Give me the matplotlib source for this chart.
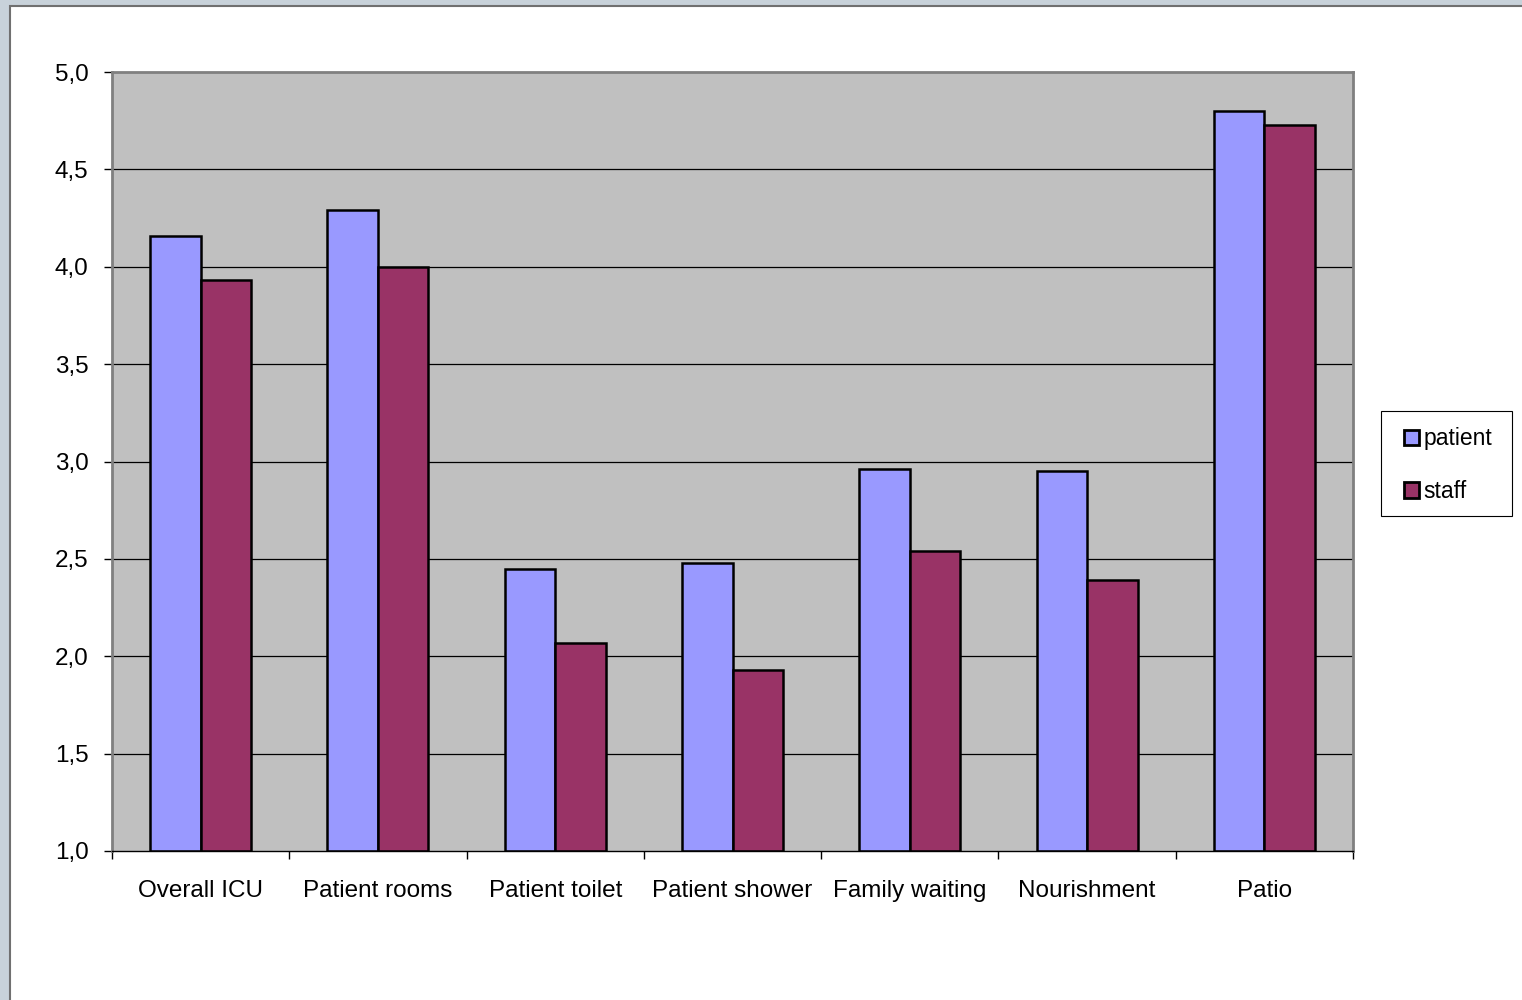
import numpy as np
import matplotlib
matplotlib.use("Agg")
import matplotlib.pyplot as plt
from matplotlib.patches import Rectangle

plt.rcParams['font.family'] = ['Liberation Sans', 'DejaVu Sans']

categories = ['Overall ICU', 'Patient rooms', 'Patient toilet', 'Patient shower',
              'Family waiting', 'Nourishment', 'Patio']
patient = [4.16, 4.29, 2.45, 2.48, 2.96, 2.95, 4.80]
staff = [3.93, 4.00, 2.07, 1.93, 2.54, 2.39, 4.73]
yticks = [1.0, 1.5, 2.0, 2.5, 3.0, 3.5, 4.0, 4.5, 5.0]

W, H = 1522, 1000
fig = plt.figure(figsize=(W / 100, H / 100), dpi=100)
fig.patch.set_facecolor('#c8d2da')

# white chart area with a dark frame line on top and left (kept behind the axes)
frame = Rectangle((9.5 / W, -0.01), 1.01, 1.01 - 5.5 / H, transform=fig.transFigure,
                  facecolor='white', edgecolor='#707070', linewidth=1.5, zorder=-5)
fig.patches.append(frame)

ax = fig.add_axes([112 / W, 1 - 851 / H, (1353 - 112) / W, (851 - 72) / H])
ax.set_facecolor('#c0c0c0')

x = np.arange(len(categories))
bw = 0.285
ax.bar(x - bw / 2, [p - 1 for p in patient], bw, bottom=1, color='#9999ff',
       edgecolor='black', linewidth=1.8, label='patient', zorder=3)
ax.bar(x + bw / 2, [s - 1 for s in staff], bw, bottom=1, color='#993366',
       edgecolor='black', linewidth=1.8, label='staff', zorder=3)

ax.set_xlim(-0.5, len(categories) - 0.5)
ax.set_ylim(1.0, 5.0)
ax.set_yticks(yticks)
ax.set_yticklabels([f'{v:.1f}'.replace('.', ',') for v in yticks], fontsize=17.5)
for v in yticks[1:-1]:
    ax.axhline(v, color='black', linewidth=0.9, zorder=1)

ax.set_xticks(x)
ax.set_xticklabels(categories, fontsize=17.5)
ax.tick_params(axis='x', length=0, pad=21)
ax.set_xticks(np.arange(len(categories) + 1) - 0.5, minor=True)
ax.tick_params(axis='x', which='minor', length=6, width=1, color='black')
ax.tick_params(axis='y', length=6, width=1, color='black', pad=11)

for side in ['top', 'right', 'left']:
    ax.spines[side].set_color('#808080')
    ax.spines[side].set_linewidth(2)
ax.spines['bottom'].set_color('black')
ax.spines['bottom'].set_linewidth(1)
ax.spines['bottom'].set_zorder(4)

# legend box drawn on its own so its size can be fixed
legbox = Rectangle((1380.5 / W, 1 - 515.5 / H), 131 / W, 105 / H, transform=fig.transFigure,
                   facecolor='white', edgecolor='black', linewidth=0.8, zorder=1)
fig.patches.append(legbox)
leg = fig.legend(loc='upper left', bbox_to_anchor=(1386 / W, 1 - 409 / H),
                 fontsize=16.5, frameon=False,
                 handlelength=0.65, handleheight=0.65, handletextpad=0.2,
                 labelspacing=1.3, borderpad=0.8, borderaxespad=0)
leg.set_zorder(2)
for h in leg.legend_handles:
    h.set_linewidth(2)

fig.savefig('out.png', dpi=100, facecolor=fig.get_facecolor())
